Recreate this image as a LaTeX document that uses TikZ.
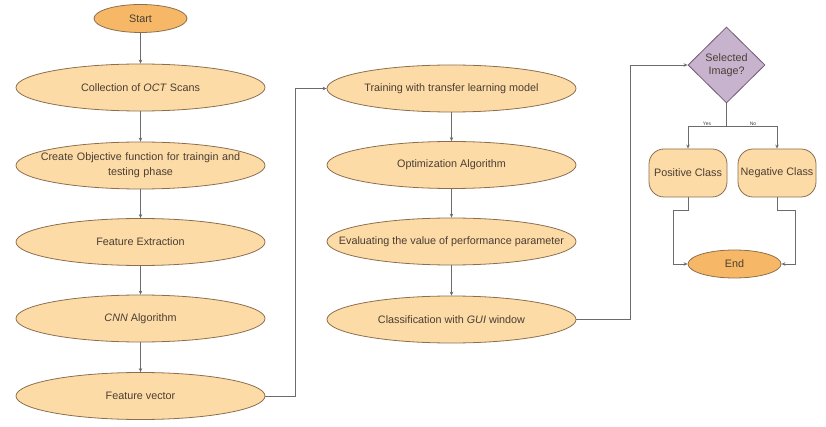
\documentclass[tikz,border=0pt]{standalone}
\usepackage{fontspec}
\setmainfont{Liberation Sans}
\usetikzlibrary{shapes.geometric,arrows.meta}
\definecolor{peach}{HTML}{FDDBA6}
\definecolor{orng}{HTML}{F6B867}
\definecolor{edgec}{HTML}{8C6E4E}
\definecolor{txt}{HTML}{4A3E33}
\definecolor{lav}{HTML}{C8B3CF}
\definecolor{lavedge}{HTML}{6E5B70}
\definecolor{lin}{HTML}{6B6B6B}
\begin{document}
\begin{tikzpicture}[x=1pt,y=-1pt,
 proc/.style={ellipse, draw=edgec, fill=peach, line width=0.8pt, minimum width=249pt, minimum height=47pt, inner xsep=-60pt, inner ysep=-10pt, font=\fontsize{10.8}{15}\selectfont, text=txt, align=center},
 term/.style={ellipse, draw=edgec, fill=orng, line width=0.8pt, minimum width=93pt, minimum height=28pt, inner sep=0pt, font=\fontsize{10.8}{12}\selectfont, text=txt},
 cls/.style={rectangle, rounded corners=15pt, draw=edgec, fill=peach, line width=0.8pt, minimum width=78pt, minimum height=48pt, inner sep=0pt, font=\fontsize{10.8}{12}\selectfont, text=txt},
 dec/.style={diamond, draw=lavedge, fill=lav, line width=0.8pt, minimum width=77pt, minimum height=76pt, inner sep=0pt, aspect=1, font=\fontsize{10.8}{13}\selectfont, text=txt, align=center},
 conn/.style={draw=lin, line width=0.7pt, -{Stealth[length=4pt,width=3.5pt]}},
 lbl/.style={font=\fontsize{5}{6}\selectfont, text=txt, inner sep=0.5pt}
]
\useasboundingbox (0,0) rectangle (826,427);
\node[term] (start) at (140.5,18.5) {Start};
\node[proc] (c1) at (140.5,87.5) {Collection of \textit{OCT} Scans};
\node[proc, text width=220pt] (c2) at (140.5,165.5) {Create Objective function for traingin and\\testing phase};
\node[proc] (c3) at (140.5,242) {Feature Extraction};
\node[proc] (c4) at (140.5,318.5) {\textit{CNN} Algorithm};
\node[proc] (c5) at (140.5,396) {Feature vector};
\node[proc] (t1) at (451.5,88.5) {Training with transfer learning model};
\node[proc] (t2) at (451.5,165) {Optimization Algorithm};
\node[proc] (t3) at (451.5,241.5) {Evaluating the value of performance parameter};
\node[proc] (t4) at (451.5,319.5) {Classification with \textit{GUI} window};
\node[dec] (dec) at (726.5,65) {Selected\\Image?};
\node[cls] (pos) at (688,173) {Positive Class};
\node[cls] (neg) at (777,173) {Negative Class};
\node[term] (end) at (734.5,264) {End};
\coordinate (br) at (726.5,126);
\draw[conn] (start) -- (c1);
\draw[conn] (c1) -- (c2);
\draw[conn] (c2) -- (c3);
\draw[conn] (c3) -- (c4);
\draw[conn] (c4) -- (c5);
\draw[conn] (c5.east) -- ++(30,0) |- (t1.west);
\draw[conn] (t1) -- (t2);
\draw[conn] (t2) -- (t3);
\draw[conn] (t3) -- (t4);
\draw[conn] (t4.east) -- ++(54,0) |- (dec.west);
\draw[draw=lin, line width=0.7pt] (dec.south) -- (br);
\draw[conn] (br) -| (pos.north);
\draw[conn] (br) -| (neg.north);
\node[lbl, anchor=south] (yes) at (707,126.5) {Yes};
\node[lbl, anchor=south] (no) at (753,126.5) {No};
\draw[conn] (pos.south) -- ++(0,13) -- ++(-15,0) |- (end.west);
\draw[conn] (neg.south) -- ++(0,13) -- ++(18,0) |- (end.east);
\end{tikzpicture}
\end{document}
